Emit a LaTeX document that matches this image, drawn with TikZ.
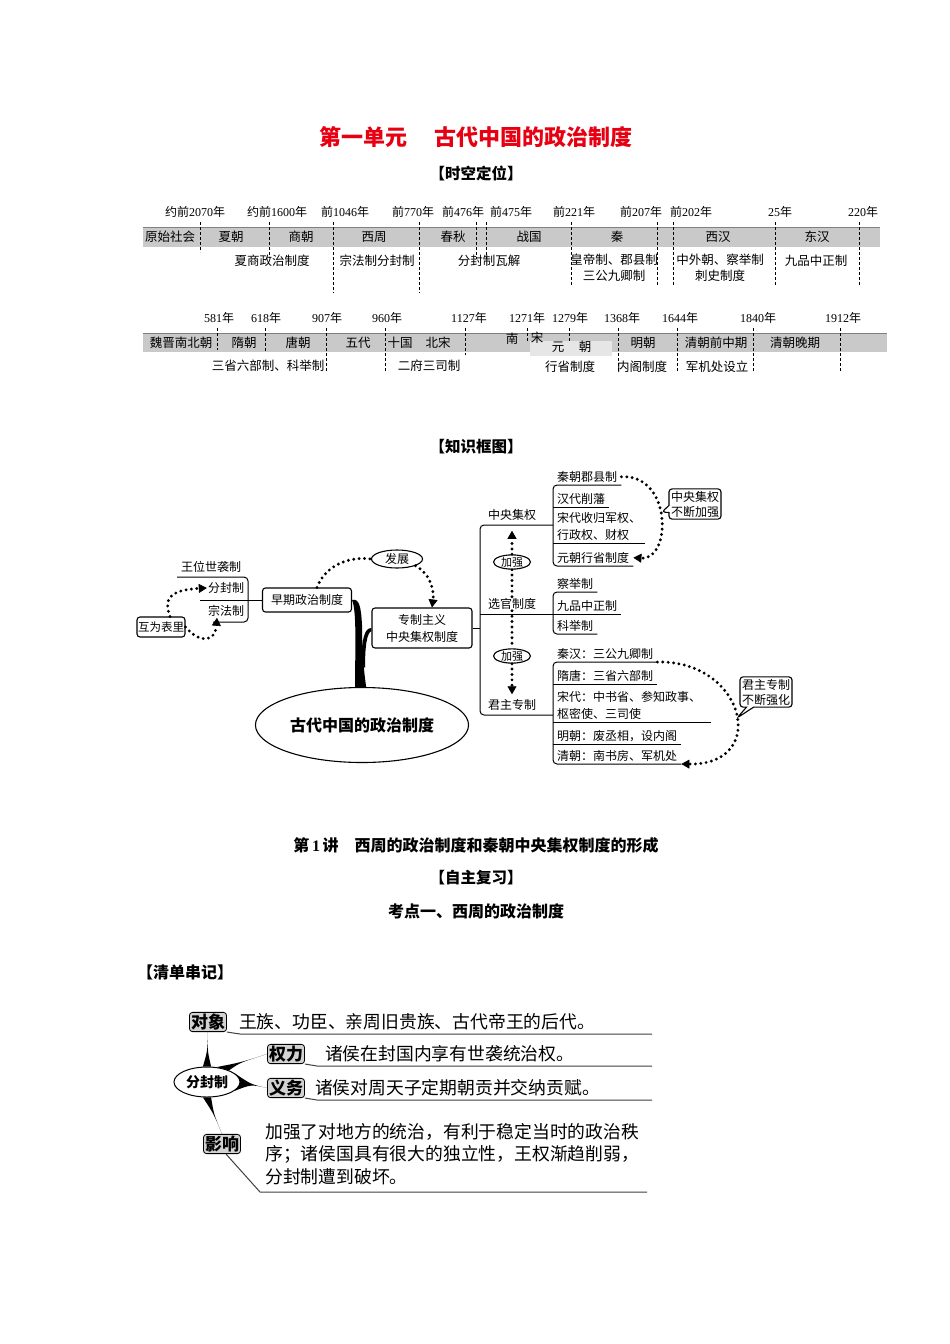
\documentclass[tikz,border=0pt]{standalone}
\usepackage{fontspec}
\setmainfont{Liberation Serif}
\newfontfamily\cjk{Noto Sans CJK SC}
\usepackage{tikz}
\usetikzlibrary{positioning,arrows.meta,shapes.geometric,shapes.callouts,calc,backgrounds}
\definecolor{band}{HTML}{C9C9C9}
\definecolor{bandlt}{HTML}{E6E6E6}
\definecolor{headred}{HTML}{E60012}
\definecolor{tagfill}{HTML}{D2D2D2}
\newcommand{\yr}[1]{{\rmfamily#1}}
\newcommand{\fs}[2]{\fontsize{#1}{#2}\selectfont}

\begin{document}
\begin{tikzpicture}[x=1pt,y=-1pt,
  font=\cjk,
  >={Triangle[length=8pt,width=9pt,line width=0.6pt]},
  head/.style={font=\cjk\bfseries\fs{16}{18},inner sep=0pt},
  yearlbl/.style={font=\cjk\fs{12}{14},inner sep=0pt},
  eralbl/.style={font=\cjk\fs{12.5}{14},inner sep=0pt},
  syslbl/.style={font=\cjk\fs{12.5}{16},inner sep=0pt,align=center},
  cut/.style={line width=0.6pt,dash pattern=on 3pt off 2pt},
  mbox/.style={draw,line width=1.1pt,rounded corners=3pt,fill=white,
    font=\cjk\fs{12}{17},inner sep=2pt,align=center},
  lbl/.style={font=\cjk\fs{12}{14},inner sep=1pt},
  item/.style={anchor=south west,inner xsep=4pt,inner ysep=2.5pt,
    font=\cjk\fs{12}{17},align=left},
  branch/.style={line width=1pt,rounded corners=4pt},
  dotline/.style={line width=3.2pt,dash pattern=on 0pt off 5.4pt,line cap=round},
  note/.style={draw,line width=1.1pt,rectangle callout,rounded corners=3pt,fill=white,
    font=\cjk\fs{12}{15},inner sep=2pt,align=center},
  tag/.style={draw,line width=0.8pt,rounded corners=3pt,fill=tagfill,
    inner sep=1.5pt,font=\cjk\bfseries\fs{17}{20}},
  desc/.style={font=\cjk\fs{17.8}{22.5},inner sep=0pt,anchor=west,align=left},
  uline/.style={line width=1pt,black!75}
]
\begin{scope}[on background layer]
  \fill[white] (0,0) rectangle (950,1344);
\end{scope}
\path[use as bounding box] (0,0) rectangle (950,1344);

% headings
\node[font=\cjk\bfseries\fs{22}{26},text=headred,inner sep=0pt] (title) at (476,137)
  {第一单元\hspace{1.2em}古代中国的政治制度};
\node[head,font=\cjk\bfseries\fs{15.5}{18}] (skdw) at (476,173) {【时空定位】};

% timeline 1
\fill[band] (143,227) rectangle (880,247);
\draw[black!50,line width=0.7pt] (143,227) -- (880,227);
\foreach \x/\yb in {200/252,269/258,333/293,419/293,476/259,486/259,571/285,657/285,673/285,775/285,859/285}
  \draw[cut] (\x,222) -- (\x,\yb);
\foreach \x/\t [count=\i] in {195/约前\yr{2070}年,277/约前\yr{1600}年,345/前\yr{1046}年,
    413/前\yr{770}年,463/前\yr{476}年,511/前\yr{475}年,574/前\yr{221}年,641/前\yr{207}年,
    691/前\yr{202}年,780/\yr{25}年,863/\yr{220}年}
  \node[yearlbl] (ya\i) at (\x,212) {\t};
\foreach \x/\t [count=\i] in {170/原始社会,231/夏朝,301/商朝,374/西周,453/春秋,529/战国,617/秦,718/西汉,817/东汉}
  \node[eralbl] (ea\i) at (\x,237) {\t};
\node[syslbl] (sa1) at (272,261) {夏商政治制度};
\node[syslbl] (sa2) at (377,261) {宗法制分封制};
\node[syslbl] (sa3) at (489,261) {分封制瓦解};
\node[syslbl,anchor=north] (sa4) at (614,254) {皇帝制、郡县制\\三公九卿制};
\node[syslbl,anchor=north] (sa5) at (720,254) {中外朝、察举制\\刺史制度};
\node[syslbl] (sa6) at (816,261) {九品中正制};

% timeline 2
\fill[band] (143,333) rectangle (887,352);
\draw[black!50,line width=0.7pt] (143,333) -- (887,333);
\fill[bandlt] (530,341) rectangle (612,356);
\foreach \x/\yb in {217/350,265/352,326/372,385/372,465/355,527/342,569/342,618/372,677/372,753/372,840/372}
  \draw[cut] (\x,328) -- (\x,\yb);
\foreach \x/\t [count=\i] in {219/\yr{581}年,266/\yr{618}年,327/\yr{907}年,387/\yr{960}年,
    469/\yr{1127}年,527/\yr{1271}年,570/\yr{1279}年,622/\yr{1368}年,680/\yr{1644}年,
    758/\yr{1840}年,843/\yr{1912}年}
  \node[yearlbl] (yb\i) at (\x,318) {\t};
\foreach \x/\t [count=\i] in {181/魏晋南北朝,244/隋朝,298/唐朝,358/五代,400/十国,438/北宋,643/明朝,716/清朝前中期,795/清朝晚期}
  \node[eralbl] (eb\i) at (\x,343) {\t};
\node[eralbl] (nan) at (512,339) {南};
\node[eralbl] (song) at (537,338) {宋};
\node[eralbl] (yuan) at (558,347) {元};
\node[eralbl] (chao) at (585,347) {朝};
\node[syslbl] (sb1) at (268,366) {三省六部制、科举制};
\node[syslbl] (sb2) at (429,366) {二府三司制};
\node[syslbl] (sb3) at (570,367) {行省制度};
\node[syslbl] (sb4) at (642,367) {内阁制度};
\node[syslbl] (sb5) at (717,367) {军机处设立};

% knowledge map
\node[head,font=\cjk\bfseries\fs{15.5}{18}] (zskt) at (476,447) {【知识框图】};

\node[ellipse,draw,line width=1.1pt,fill=white,minimum width=170pt,minimum height=75pt,
  font=\cjk\bfseries\fs{16}{18}] (root) at (362,725) {古代中国的政治制度};
\node[mbox,minimum width=89pt,minimum height=24pt] (early) at (307,600) {早期政治制度};
\node[mbox,minimum width=100pt,minimum height=40pt] (zyzy) at (422,628) {专制主义\\中央集权制度};
\node[mbox,ellipse,minimum width=51pt,minimum height=18pt,inner sep=0pt] (fz) at (397,559) {发展};
\node[mbox,minimum width=48pt,minimum height=20pt,inner sep=1pt,font=\cjk\fs{11.5}{13}] (hwbl) at (161,627) {互为表里};

\node[lbl] (wwsx) at (211,567) {王位世袭制};
\node[lbl] (ffz) at (226,588) {分封制};
\node[lbl] (zfz) at (226,611) {宗法制};
\draw[branch] (177,577) -| (248,622) -- (213,622);
\draw[branch] (200,600) -- (early.west);
\draw[dotline,->] ([xshift=9pt]hwbl.north) .. controls (164,600) and (168,590) .. (ffz.west);
\draw[dotline,->] (hwbl.east) .. controls (200,644) and (215,642) .. ([xshift=-9pt]zfz.south);
\draw[dotline] ([xshift=10pt]early.north) .. controls (325,566) and (348,556) .. (fz.west);
\draw[dotline,->] (fz.south east) .. controls (432,575) and (434,592) .. ([xshift=10pt]zyzy.north);

\begin{scope}[on background layer]
  \fill (355,692) .. controls (355,650) and (357,612) .. (early.east)
    .. controls (359,598) and (361,606) .. (362,625)
    .. controls (362,650) and (364,675) .. (367,692) -- cycle;
  \fill (361,662) .. controls (362,640) and (364,628) .. (zyzy.west)
    -- ($(zyzy.west)+(0,3)$) .. controls (367,633) and (365,645) .. (365,668) -- cycle;
\end{scope}

\draw[branch] (zyzy.east) -- (480,628);
\draw[branch] (553,525) -| (480,715) -- (553,715);
\draw[branch] (480,614) -- (553,614);

\node[lbl,fill=white] (zyjq) at (512,515) {中央集权};
\node[lbl,fill=white] (xgzd) at (512,604) {选官制度};
\node[lbl,fill=white] (jmzz) at (512,705) {君主专制};
\node[mbox,ellipse,minimum width=37pt,minimum height=12pt,inner sep=0pt,font=\cjk\fs{11}{12}] (jq1) at (512,562) {加强};
\node[mbox,ellipse,minimum width=37pt,minimum height=12pt,inner sep=0pt,font=\cjk\fs{11}{12}] (jq2) at (512,656) {加强};
\draw[dotline,->] (jq1.north) -- ([yshift=-9pt]zyjq.south);
\draw[dotline] (jq1.south) -- (xgzd.north);
\draw[dotline] (xgzd.south) -- (jq2.north);
\draw[dotline,->] (jq2.south) -- ([yshift=4pt]jmzz.north);

% central power
\node[item] (qcjx) at (553,485) {秦朝郡县制};
\node[item] (hdxf) at (553,507) {汉代削藩};
\node[item] (sdsg) at (553,543) {宋代收归军权、\\行政权、财权};
\node[item] (ycxs) at (553,566) {元朝行省制度};
\draw[branch] (qcjx.south east) -- (qcjx.south west) -- (ycxs.south west) -- (ycxs.south east);
\draw[branch] (hdxf.south west) -- (hdxf.south east);
\draw[branch] (sdsg.south west) -- (sdsg.south east);
\draw[dotline,->] (qcjx.east) .. controls (672,474) and (672,560) .. (ycxs.east);
\node[note,callout absolute pointer={(662,512)}] (jqbq) at (695,504) {中央集权\\不断加强};

% official selection
\node[item] (cjz) at (553,592) {察举制};
\node[item] (jpzz) at (553,614) {九品中正制};
\node[item] (kjz) at (553,634) {科举制};
\draw[branch] (cjz.south east) -- (cjz.south west) -- (kjz.south west) -- (kjz.south east);
\draw[branch] (jpzz.south west) -- (jpzz.south east);

% autocracy
\node[item] (qh) at (553,662) {秦汉：三公九卿制};
\node[item] (st) at (553,684) {隋唐：三省六部制};
\node[item,text width=150pt] (sd) at (553,722) {宋代：中书省、参知政事、\\枢密使、三司使};
\node[item] (mc) at (553,744) {明朝：废丞相，设内阁};
\node[item] (qc) at (553,764) {清朝：南书房、军机处};
\draw[branch] (qh.south east) -- (qh.south west) -- (qc.south west) -- (qc.south east);
\draw[branch] (st.south west) -- (st.south east);
\draw[branch] (sd.south west) -- (sd.south east);
\draw[branch] (mc.south west) -- (mc.south east);
\draw[dotline,->] (qh.south east) .. controls (745,660) and (770,765) .. (qc.south east);
\node[note,callout absolute pointer={(737,718)}] (jzqh) at (766,692) {君主专制\\不断强化};

% lesson headings
\node[head] (lec1) at (476,845) {第\,\yr{1}\,讲\hspace{1em}西周的政治制度和秦朝中央集权制度的形成};
\node[head,font=\cjk\bfseries\fs{15.5}{18}] (zzfx) at (476,878) {【自主复习】};
\node[head] (kd1) at (476,911) {考点一、西周的政治制度};
\node[head] (qdcj) at (185,972) {【清单串记】};

% enfeoffment map
\node[ellipse,draw,line width=1pt,fill=white,minimum width=66pt,minimum height=30pt,
  inner sep=0pt,font=\cjk\bfseries\fs{14}{16}] (ffzc) at (207,1082) {分封制};
\node[tag] (dx) at (208,1022) {对象};
\node[tag] (ql) at (286,1054) {权力};
\node[tag] (yw) at (286,1088) {义务};
\node[tag] (yx) at (222,1144) {影响};
\node[desc,right=12pt of dx] (dxt) {王族、功臣、亲周旧贵族、古代帝王的后代。};
\node[desc,right=20pt of ql] (qlt) {诸侯在封国内享有世袭统治权。};
\node[desc,right=10pt of yw] (ywt) {诸侯对周天子定期朝贡并交纳贡赋。};
\node[desc,anchor=north west] (yxt) at (265,1123)
  {加强了对地方的统治，有利于稳定当时的政治秩\\序；诸侯国具有很大的独立性，王权渐趋削弱，\\分封制遭到破坏。};
\draw[uline] (dx.south east) -- (240,1034) -- (652,1034);
\draw[uline] (ql.south east) -- (317,1066) -- (652,1066);
\draw[uline] (yw.south east) -- (317,1100) -- (652,1100);
\draw[uline] ([xshift=4pt]yx.south) -- (260,1192) -- (647,1192);

\begin{scope}[on background layer]
  \fill (ffzc.105) .. controls ($(ffzc.north)!0.45!(dx.south)$) .. (dx.south)
    .. controls ($(ffzc.north)!0.45!(dx.south)$) .. (ffzc.75) -- cycle;
  \fill (ffzc.58) .. controls ($(ffzc.42)!0.4!(ql.west)$) .. (ql.west)
    .. controls ($(ffzc.42)!0.4!(ql.west)$) .. (ffzc.28) -- cycle;
  \fill (ffzc.18) .. controls ($(ffzc.east)!0.4!(yw.west)$) .. (yw.west)
    .. controls ($(ffzc.east)!0.4!(yw.west)$) .. (ffzc.-18) -- cycle;
  \fill (ffzc.-105) .. controls ($(ffzc.south)!0.45!(yx.north)$) .. (yx.north)
    .. controls ($(ffzc.south)!0.45!(yx.north)$) .. (ffzc.-75) -- cycle;
\end{scope}
\end{tikzpicture}
\end{document}
